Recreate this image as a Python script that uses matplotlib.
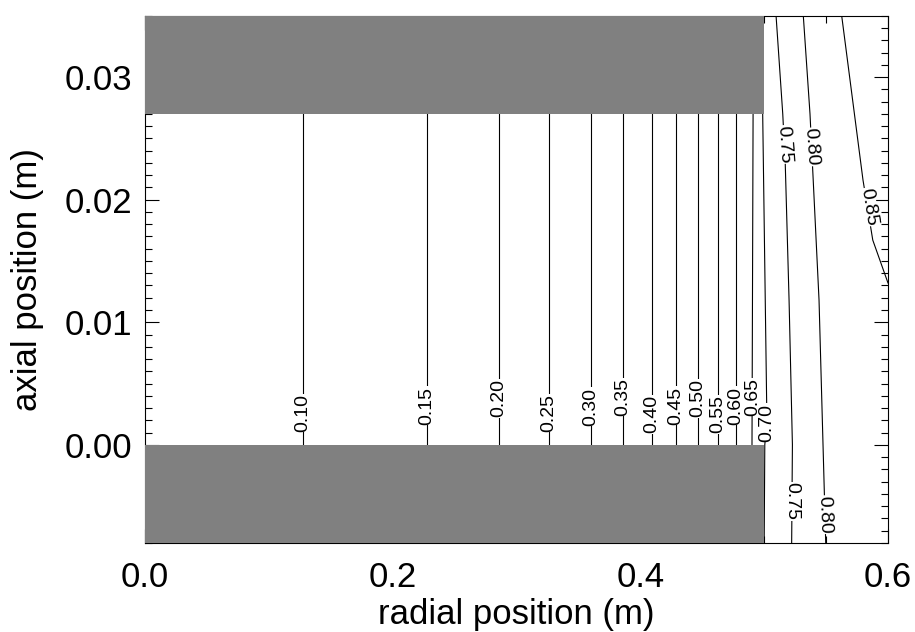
import matplotlib
matplotlib.use("Agg")
import matplotlib.pyplot as plt
from matplotlib.patches import Rectangle
from matplotlib.ticker import MultipleLocator, FormatStrFormatter

plt.rcParams['font.family'] = ['Liberation Sans', 'DejaVu Sans']

# contour levels and the traced line of each one (y values, x values)
levels = [0.10, 0.15, 0.20, 0.25, 0.30, 0.35, 0.40, 0.45, 0.50, 0.55, 0.60, 0.65,
          0.70, 0.75, 0.80, 0.85]
line_y = [
    [-0.008, 0.035], [-0.008, 0.035], [-0.008, 0.035], [-0.008, 0.035],
    [-0.008, 0.035], [-0.008, 0.035], [-0.008, 0.035], [-0.008, 0.035],
    [-0.008, 0.035], [-0.008, 0.035], [-0.008, 0.035], [-0.008, 0.035],
    [-0.008, 0.0, 0.002, 0.027],
    [-0.008, 0.0, 0.0118, 0.0230, 0.027, 0.035],
    [-0.008, 0.0118, 0.027, 0.035],
    [0.0132, 0.0167, 0.0216, 0.035],
]
line_x = [
    [0.1274, 0.1274], [0.2277, 0.2277], [0.2856, 0.2856], [0.3263, 0.3263],
    [0.3599, 0.3599], [0.3860, 0.3860], [0.4092, 0.4092], [0.4288, 0.4288],
    [0.4466, 0.4466], [0.4627, 0.4627], [0.4770, 0.4770], [0.4899, 0.4913],
    [0.5000, 0.5005, 0.5022, 0.4988],
    [0.5222, 0.5228, 0.5201, 0.5170, 0.5150, 0.5096],
    [0.5497, 0.5443, 0.5370, 0.5316],
    [0.6000, 0.5877, 0.5798, 0.5626],
]

# label placements: level, x, y, rotation
lab_level = ['0.10', '0.15', '0.20', '0.25', '0.30', '0.35', '0.40', '0.45', '0.50',
             '0.55', '0.60', '0.65', '0.70', '0.75', '0.80', '0.85', '0.75', '0.80']
lab_x = [0.1274, 0.2277, 0.2856, 0.3263, 0.3599, 0.3860, 0.4092, 0.4288, 0.4466,
         0.4627, 0.4770, 0.4908, 0.5022, 0.5158, 0.5380, 0.5840, 0.5226, 0.5485]
lab_y = [0.0026, 0.0032, 0.0038, 0.0026, 0.0031, 0.0039, 0.0025, 0.0032, 0.0038,
         0.0025, 0.0032, 0.0039, 0.0018, 0.0245, 0.0243, 0.0194, -0.0046, -0.0057]
lab_rot = [90, 90, 90, 90, 90, 90, 90, 90, 90, 90, 90, 90, 90,
           -86, -86, -81, -90, -88]

# solid (grey) regions: x0, y0, width, height
block_x = [0.0, 0.0]
block_y = [0.027, -0.008]
block_w = [0.5, 0.5]
block_h = [0.008, 0.008]

fig = plt.figure(figsize=(9.15, 6.32), dpi=100)
ax = fig.add_axes([0.1585, 0.141, 0.812, 0.834])

for ys, xs in zip(line_y, line_x):
    ax.plot(xs, ys, color='black', lw=0.8, zorder=2)

for x0, y0, w, h in zip(block_x, block_y, block_w, block_h):
    ax.add_patch(Rectangle((x0, y0), w, h, facecolor='#808080', edgecolor='none', zorder=3))

for t, x, y, r in zip(lab_level, lab_x, lab_y, lab_rot):
    ax.text(x, y, t, rotation=r, rotation_mode='anchor', ha='center', va='center',
            fontsize=14, zorder=4,
            bbox=dict(facecolor='white', edgecolor='none', pad=0.3))

ax.set_xlim(0.0, 0.6)
ax.set_ylim(-0.008, 0.035)
ax.xaxis.set_major_locator(MultipleLocator(0.2))
ax.xaxis.set_minor_locator(MultipleLocator(0.05))
ax.yaxis.set_major_locator(MultipleLocator(0.01))
ax.yaxis.set_minor_locator(MultipleLocator(0.001))
ax.xaxis.set_major_formatter(FormatStrFormatter('%.1f'))
ax.yaxis.set_major_formatter(FormatStrFormatter('%.2f'))
ax.tick_params(which='both', direction='in', top=True, right=True, width=0.8,
               labelsize=25)
ax.tick_params(which='major', length=10)
ax.tick_params(axis='x', which='major', pad=13)
ax.tick_params(axis='y', which='major', pad=9)
ax.tick_params(which='minor', length=5)
for s in ax.spines.values():
    s.set_linewidth(0.8)

ax.set_xlabel('radial position (m)', fontsize=25, labelpad=3)
ax.set_ylabel('axial position (m)', fontsize=25, labelpad=15)

fig.savefig('out.png', dpi=100)
